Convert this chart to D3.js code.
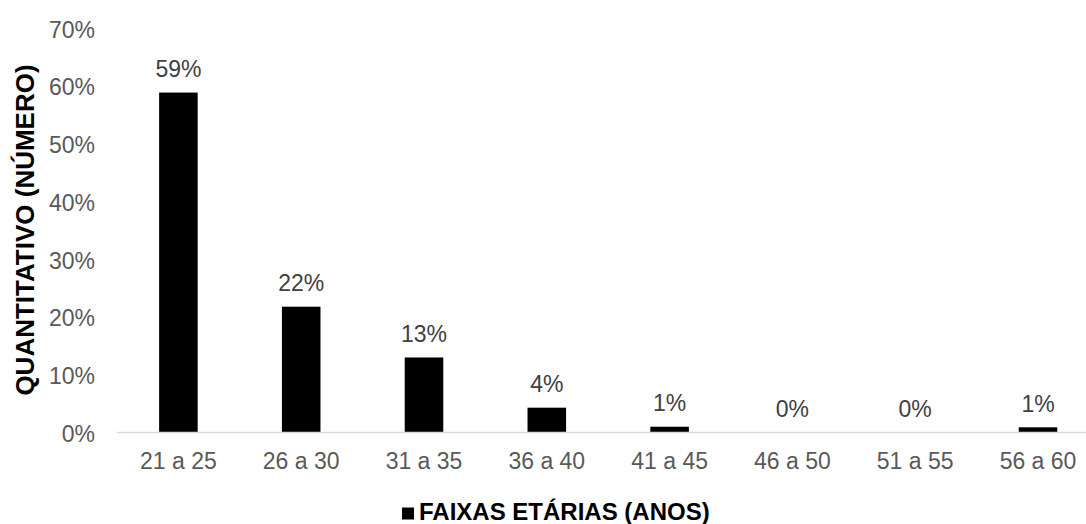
<!DOCTYPE html>
<html>
<head>
<meta charset="utf-8">
<script src="https://cdn.jsdelivr.net/npm/d3@7"></script>
<style>
  html, body { margin: 0; padding: 0; background: #fff; }
  svg { display: block; font-family: "Liberation Sans", Arial, sans-serif; }
</style>
</head>
<body>
<svg id="chart" width="1086" height="524"></svg>
<script>
const categories = ["21 a 25", "26 a 30", "31 a 35", "36 a 40", "41 a 45", "46 a 50", "51 a 55", "56 a 60"];
const values = [0.589, 0.218, 0.130, 0.043, 0.010, 0, 0, 0.009];
const valueLabels = ["59%", "22%", "13%", "4%", "1%", "0%", "0%", "1%"];
const yTicks = [0, 0.1, 0.2, 0.3, 0.4, 0.5, 0.6, 0.7];
const yTitle = "QUANTITATIVO (NÚMERO)";
const legendLabel = "FAIXAS ETÁRIAS (ANOS)";

const svg = d3.select("#chart");

const x = d3.scaleBand()
  .domain(categories)
  .range([117, 117 + 8 * 122.8])
  .paddingInner(0.686)
  .paddingOuter(0.343);

const y = d3.scaleLinear()
  .domain([0, 0.7])
  .range([432.5, 28.5]);

// Y tick labels (no gridlines)
const yAxis = d3.axisLeft(y)
  .tickValues(yTicks)
  .tickFormat(d3.format(".0%"))
  .tickSize(0)
  .tickPadding(0);
const gy = svg.append("g").attr("transform", "translate(95,0)").call(yAxis);
gy.select(".domain").remove();
gy.selectAll("text")
  .attr("fill", "#595959")
  .attr("font-size", "23px")
  .attr("font-family", "Liberation Sans, Arial, sans-serif")
  .attr("dy", "0.38em");

// Bars
svg.append("g").selectAll("rect")
  .data(values)
  .join("rect")
  .attr("x", (d, i) => x(categories[i]))
  .attr("width", x.bandwidth())
  .attr("y", d => y(d))
  .attr("height", d => y(0) - y(d))
  .attr("fill", "#000");

// X axis
const xAxis = d3.axisBottom(x).tickSize(0).tickPadding(0);
const gx = svg.append("g").attr("transform", `translate(0,${y(0)})`).call(xAxis);
gx.select(".domain").remove();
gx.selectAll("text")
  .attr("fill", "#595959")
  .attr("font-size", "23px")
  .attr("font-family", "Liberation Sans, Arial, sans-serif")
  .attr("y", 36.5)
  .attr("dy", 0);

svg.append("line")
  .attr("x1", 117).attr("x2", 1086)
  .attr("y1", y(0)).attr("y2", y(0))
  .attr("stroke", "#d9d9d9")
  .attr("stroke-width", 1.3);

// Data labels
svg.append("g").selectAll("text")
  .data(values)
  .join("text")
  .attr("x", (d, i) => x(categories[i]) + x.bandwidth() / 2)
  .attr("y", d => y(d) - 15.5)
  .attr("text-anchor", "middle")
  .attr("fill", "#404040")
  .attr("font-size", "23px")
  .text((d, i) => valueLabels[i]);

// Y axis title
svg.append("text")
  .attr("transform", `translate(33.5,230) rotate(-90)`)
  .attr("text-anchor", "middle")
  .attr("font-weight", "bold")
  .attr("font-size", "26px")
  .attr("fill", "#000")
  .text(yTitle);

// Legend
const lg = svg.append("g");
lg.append("rect")
  .attr("x", 402).attr("y", 507.5)
  .attr("width", 12).attr("height", 12)
  .attr("fill", "#000");
lg.append("text")
  .attr("x", 419).attr("y", 520)
  .attr("font-weight", "bold")
  .attr("font-size", "24px")
  .attr("fill", "#000")
  .text(legendLabel);
</script>
</body>
</html>
